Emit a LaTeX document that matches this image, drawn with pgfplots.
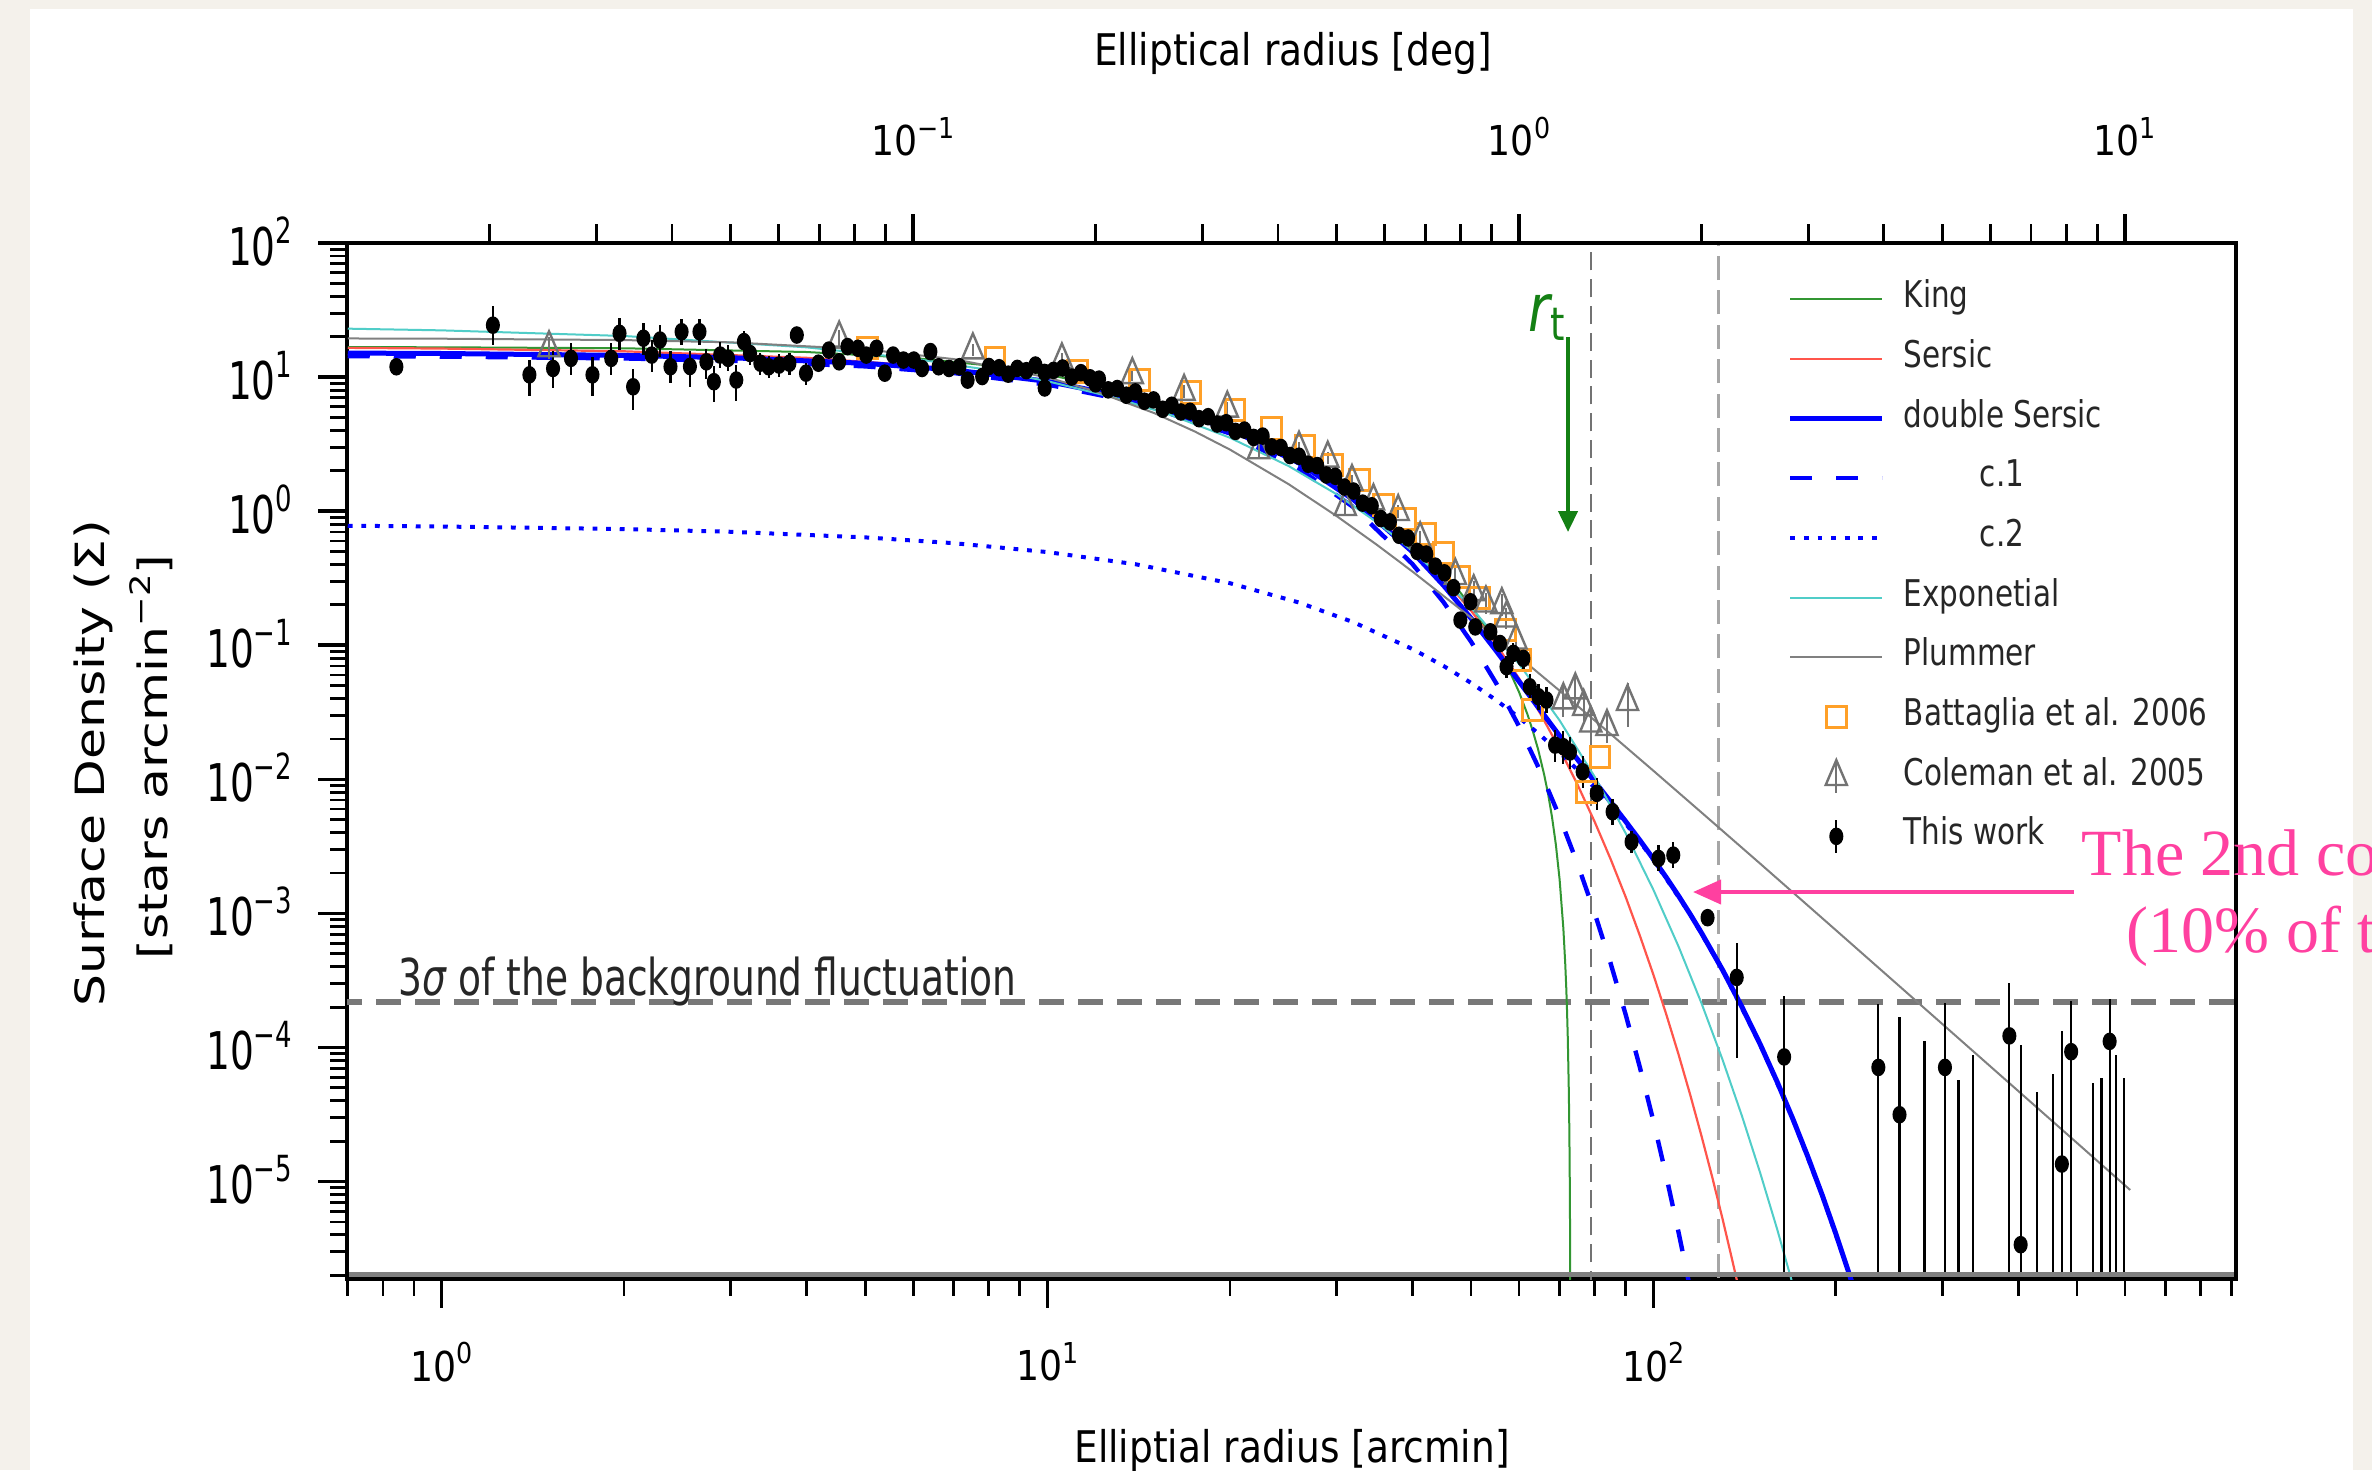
\documentclass[border=0pt]{standalone}
\usepackage{pgfplots}
\pgfplotsset{compat=1.18}
\usepackage{pgfplotstable}
\usepackage{graphicx}
\usepackage{fontspec}
\usetikzlibrary{arrows.meta}
\setmainfont{DejaVu Sans}
\newfontfamily\labf{DejaVu Sans}[FakeStretch=0.86]
\newfontfamily\sgf{DejaVu Sans}[FakeStretch=0.74]
\newfontfamily\lgf{DejaVu Sans}[FakeStretch=0.80]
\newfontfamily\xtf{DejaVu Sans}[FakeStretch=0.88]
\newfontfamily\ytf{DejaVu Sans}[FakeStretch=0.72]
\newfontfamily\ylf{DejaVu Sans}
\newfontfamily\rtf{DejaVu Sans}[FakeStretch=0.8]
\newfontfamily\pkf{Liberation Serif}

\definecolor{bgbeige}{RGB}{244,241,235}
\definecolor{kinggreen}{RGB}{50,150,50}
\definecolor{rtgreen}{RGB}{20,128,20}
\definecolor{sersicred}{RGB}{255,85,75}
\definecolor{expcyan}{RGB}{80,205,200}
\definecolor{plumgray}{RGB}{128,128,128}
\definecolor{batorange}{RGB}{255,160,40}
\definecolor{colgray}{RGB}{115,115,115}
\definecolor{pinkc}{RGB}{255,64,160}
\definecolor{sigline}{RGB}{120,120,120}

\newcommand\xsup[1]{\raisebox{4.3pt}{\fontsize{7.2}{7.2}\selectfont #1}}
\newcommand\ysup[1]{\raisebox{5.4pt}{\fontsize{9}{9}\selectfont #1}}
\newcommand\lsup[1]{\raisebox{5.2pt}{\fontsize{8.8}{8.8}\selectfont #1}}

\pgfplotsset{
  legend image code/.code={\draw[#1] (0pt,0.65pt) -- (23pt,0.65pt);},
  legmark/.style={legend image code/.code={\draw[##1] plot coordinates {(11.5pt,0.65pt)};}},
  legbar/.style={legend image code/.code={\draw[#1, line width=0.55pt] (11.5pt,-3.4pt) -- (11.5pt,4.7pt); \draw[##1] plot coordinates {(11.5pt,0.65pt)};}},
}

\pgfplotstableread{
x y
0.7 16.73
1 16.69
2 16.41
4 15.39
6 13.91
8 12.20
10 10.46
13 8.08
16 6.13
20 4.18
25 2.58
30 1.59
35 0.976
40 0.59
45 0.347
47.5 0.2623
50 0.195
52 0.1515
54 0.1157
57.2 0.0722
60 0.0447
62 0.0302
63.2 0.023
64.5 0.01677
66 0.01086
67 0.00778
68 0.00525
69 0.00327
70 0.00179
71 7.76e-4
71.5 4.27e-4
71.8 2.74e-4
72 1.89e-4
72.2 1.2e-4
72.5 4.66e-5
72.65 2.25e-5
72.8 7.4e-6
72.95 4.6e-7
}\kingtab

\pgfplotstableread{
x y
0.7 16.53
1 16.33
2 15.58
4 13.93
6 12.27
8 10.68
10 9.21
13 7.28
16 5.67
20 3.99
25 2.51
30 1.54
35 0.925
40 0.546
45 0.3165
50 0.1808
55 0.1018
60 0.0566
65 0.0311
70 0.01687
75 9.05e-3
80 4.80e-3
85 2.53e-3
90 1.32e-3
95 6.78e-4
100 3.47e-4
105 1.76e-4
110 8.86e-5
115 4.42e-5
120 2.19e-5
125 1.08e-5
130 5.27e-6
135 2.55e-6
137 1.91e-6
140 1.23e-6
}\sersictab

\pgfplotstableread{
x y
0.7 15.11
1 15.00
2 14.52
3 13.95
5 12.67
7 11.31
10 9.29
14 6.875
20 4.093
26 2.287
32 1.216
40 0.498
45 0.2806
50 0.1587
55 0.0910
60 0.0537
65 0.0330
70 0.0211
75 0.0140
80 0.00962
85 0.00677
90 0.00484
95 0.0035
100 0.00254
105 0.00185
110 0.00135
115 9.84e-4
120 7.16e-4
130 3.79e-4
140 2.0e-4
150 1.056e-4
160 5.54e-5
170 2.9e-5
180 1.51e-5
190 7.86e-6
200 4.07e-6
210 2.1e-6
215 1.51e-6
}\dstab

\pgfplotstableread{
x y
0.7 14.335
1 14.227
2 13.781
3 13.246
5 12.028
7 10.728
10 8.793
14 6.473
20 3.803
26 2.078
32 1.068
40 0.4039
45 0.2104
50 0.1063
55 0.0521
60 0.02482
65 0.01156
70 5.24e-3
75 2.316e-3
80 9.99e-4
85 4.22e-4
90 1.75e-4
95 7.06e-5
100 2.81e-5
105 1.09e-5
110 4.17e-6
113 2.33e-6
115 1.56e-6
}\conetab

\pgfplotstableread{
x y
0.7 0.7786
1 0.7687
2 0.7353
3 0.7021
5 0.6377
7 0.5774
10 0.4953
14 0.4014
20 0.2903
26 0.2083
32 0.1484
40 0.0938
45 0.0702
50 0.05236
55 0.03894
60 0.0289
65 0.02142
70 0.01584
75 0.0117
80 0.00862
90 0.004668
100 0.002511
115 9.82e-4
130 3.79e-4
150 1.056e-4
170 2.9e-5
190 7.86e-6
210 2.1e-6
215 1.51e-6
}\ctwotab

\pgfplotstableread{
x y
0.7 22.98
1 22.32
2 20.26
4 16.68
6 13.74
8 11.31
10 9.32
13 6.96
16 5.20
20 3.53
25 2.17
30 1.337
35 0.823
40 0.5065
45 0.3115
50 0.1918
60 0.0726
70 0.0275
80 0.01042
90 3.95e-3
100 1.494e-3
110 5.66e-4
120 2.14e-4
130 8.11e-5
140 3.07e-5
150 1.16e-5
160 4.41e-6
170 1.67e-6
175 1.03e-6
}\expotab

\pgfplotstableread{
x y
0.7 19.42
1 19.34
2 18.89
3 18.17
5 16.11
7 13.63
10 9.94
12 7.84
15 5.39
17.5 3.93
20 2.88
25 1.589
30 0.919
35 0.559
40 0.355
50 0.1607
60 0.082
70 0.0458
85 0.02175
100 0.01157
120 5.66e-3
150 2.35e-3
200 7.5e-4
300 1.49e-4
400 4.73e-5
500 1.94e-5
612 8.65e-6
}\plumtab

\pgfplotstableread{
x y
5.05 16.5
8.19 13.9
11.19 10.96
14.18 9.5
17.25 7.64
20.39 5.68
23.44 4.15
26.6 3.03
29.5 2.21
32.7 1.71
35.8 1.11
39.0 0.874
42.0 0.676
45.0 0.487
47.9 0.323
51.7 0.225
56.9 0.130
60.4 0.0776
63.2 0.0329
77.4 0.00804
81.6 0.0147
}\battab

\pgfplotstableread{
x y ep em
1.504 16.5 0.2 0.17
4.53 19.5 0.15 0.13
7.53 15.9 0.12 0.1
10.56 13.4 0.12 0.1
13.8 10.4 0.12 0.1
16.8 7.8 0.12 0.1
19.8 5.85 0.12 0.1
22.3 2.86 0.15 0.13
26.0 2.94 0.12 0.1
29.0 2.48 0.12 0.1
31.0 1.08 0.15 0.13
31.8 1.66 0.12 0.1
34.5 1.19 0.12 0.1
37.9 0.99 0.12 0.1
41.2 0.62 0.15 0.13
47.1 0.33 0.15 0.13
50.5 0.25 0.2 0.17
52.9 0.206 0.2 0.17
56.2 0.20 0.2 0.17
57.2 0.159 0.2 0.17
59.3 0.109 0.2 0.17
71.0 0.039 0.3 0.25
74.3 0.0463 0.3 0.25
76.7 0.0348 0.3 0.25
78.8 0.0262 0.3 0.25
83.8 0.0247 0.3 0.25
90.6 0.0379 0.38 0.35
}\coltab

\pgfplotstableread{
x y ep em
0.842 11.95 0.12 0.10
1.215 24.4 0.38 0.29
1.396 10.4 0.30 0.30
1.527 11.6 0.35 0.28
1.635 13.8 0.30 0.25
1.774 10.4 0.35 0.30
1.905 13.8 0.30 0.25
1.966 21.2 0.30 0.25
2.07 8.47 0.35 0.33
2.153 19.5 0.30 0.25
2.222 14.6 0.30 0.25
2.293 18.9 0.30 0.25
2.386 11.95 0.30 0.25
2.489 21.8 0.25 0.20
2.569 12.0 0.30 0.30
2.664 21.8 0.25 0.20
2.735 13.0 0.25 0.25
2.814 9.24 0.30 0.30
2.882 14.6 0.25 0.20
2.970 13.8 0.25 0.20
3.064 9.51 0.30 0.30
3.154 18.4 0.20 0.18
3.228 15.0 0.20 0.18
3.357 12.7 0.20 0.18
3.465 11.95 0.20 0.18
3.605 12.3 0.20 0.18
3.75 12.7 0.20 0.18
3.857 20.6 0.15 0.13
3.994 10.7 0.20 0.18
4.187 12.7 0.15 0.13
4.355 15.9 0.15 0.13
4.529 13.0 0.15 0.13
4.675 16.9 0.15 0.13
4.864 16.4 0.15 0.13
5.02 14.6 0.15 0.13
5.22 16.4 0.15 0.13
5.387 10.7 0.15 0.13
5.56 14.6 0.15 0.13
5.783 13.4 0.12 0.10
6.015 13.4 0.12 0.10
6.208 11.6 0.12 0.10
6.407 15.5 0.12 0.10
6.61 11.95 0.12 0.10
6.877 11.6 0.12 0.10
7.155 11.95 0.12 0.10
7.38 9.5 0.12 0.10
7.8 10.1 0.12 0.10
8.0 12.0 0.12 0.10
8.318 11.75 0.10 0.09
8.61 10.52 0.10 0.09
8.913 11.61 0.10 0.09
9.226 11.17 0.10 0.09
9.55 12.30 0.10 0.09
9.886 10.84 0.10 0.09
9.89 8.3 0.12 0.10
10.23 11.22 0.10 0.09
10.59 11.69 0.10 0.09
10.96 10.0 0.10 0.09
11.35 10.79 0.10 0.09
11.75 9.886 0.10 0.09
12.0 8.9 0.10 0.09
12.16 9.66 0.10 0.09
12.59 8.035 0.10 0.09
13.03 8.22 0.10 0.09
13.49 7.328 0.10 0.09
13.96 7.762 0.10 0.09
14.45 6.607 0.10 0.09
14.96 6.761 0.10 0.09
15.49 5.754 0.10 0.09
16.03 6.166 0.10 0.09
16.60 5.495 0.10 0.09
17.18 5.559 0.10 0.09
17.78 4.898 0.10 0.09
18.41 5.070 0.10 0.09
19.05 4.467 0.10 0.09
19.72 4.571 0.10 0.09
20.42 3.936 0.10 0.09
21.13 4.027 0.10 0.09
21.88 3.548 0.10 0.09
22.65 3.631 0.10 0.09
23.44 3.020 0.10 0.09
24.27 2.985 0.10 0.09
25.12 2.600 0.10 0.09
26.0 2.570 0.10 0.09
26.92 2.239 0.10 0.09
27.86 2.188 0.10 0.09
28.84 1.862 0.10 0.09
29.85 1.820 0.10 0.09
30.90 1.514 0.10 0.09
31.99 1.413 0.10 0.09
33.11 1.148 0.10 0.09
34.28 1.097 0.10 0.09
35.48 0.881 0.10 0.09
36.73 0.832 0.10 0.09
38.02 0.661 0.10 0.09
39.36 0.631 0.10 0.09
40.74 0.501 0.10 0.09
42.17 0.479 0.10 0.09
43.65 0.389 0.10 0.09
45.19 0.347 0.10 0.09
46.77 0.269 0.10 0.09
48.0 0.154 0.15 0.13
49.9 0.211 0.15 0.13
50.8 0.137 0.15 0.13
53.8 0.126 0.15 0.13
55.8 0.103 0.15 0.13
57.2 0.0692 0.2 0.17
58.7 0.087 0.2 0.17
61.0 0.0798 0.2 0.17
62.5 0.049 0.25 0.2
64.6 0.0413 0.25 0.2
66.6 0.039 0.25 0.2
68.8 0.018 0.3 0.25
71.0 0.0175 0.3 0.25
72.8 0.016 0.3 0.25
76.4 0.0114 0.3 0.25
80.6 0.00786 0.3 0.25
85.6 0.00573 0.25 0.2
92.0 0.00342 0.2 0.17
101.9 0.00257 0.25 0.2
107.8 0.00272 0.25 0.2
122.8 9.29e-4 0.15 0.125
137.2 3.33e-4 0.8 0.75
164.3 8.5e-5 1.87 0.999
235 7.1e-5 1.96 0.999
254.7 3.15e-5 4.40 0.999
280 1e-7 1119 0
302.7 7.1e-5 2.04 0.999
318.6 1e-7 573 0
336.6 1e-7 874 0
386.7 1.22e-4 1.467 0.999
403.6 3.38e-6 30.1 0.99
429.6 1e-7 464 0
456 1e-7 629 0
472 1.35e-5 8.85 0.99
489 9.3e-5 1.40 0.999
531.6 1e-7 539 0
548.6 1e-7 589 0
566 1.11e-4 1.07 0.999
580 1e-7 879 0
598 1e-7 589 0
}\twtab

\begin{document}
\begin{tikzpicture}
\useasboundingbox (0pt,0pt) rectangle (593pt,-367.5pt);
\clip (0pt,0pt) rectangle (593pt,-367.5pt);
\begin{scope}[x=0.25pt,y=-0.25pt]
  \fill[bgbeige] (0,0) rectangle (2372,1470);
  \fill[white] (30,9) rectangle (2353,1470);
\end{scope}

\begin{axis}[
  at={(86.75pt,-319.75pt)}, anchor=south west,
  width=472.25pt, height=259pt, scale only axis,
  xmode=log, ymode=log,
  xmin=0.698, xmax=915, ymin=1.874e-6, ymax=100,
  axis line style={line width=1.2pt, black},
  tick align=outside,
  xtick pos=left, ytick pos=left,
  major tick length=7.2pt, minor tick length=4.2pt,
  tick style={black, line width=0.9pt},
  minor tick style={line width=0.7pt},
  xtick={1,10,100},
  xticklabels={10\xsup{0},10\xsup{1},10\xsup{2}},
  minor xtick={0.7,0.8,0.9,2,3,4,5,6,7,8,9,20,30,40,50,60,70,80,90,200,300,400,500,600,700,800,900},
  ytick={1e-5,1e-4,1e-3,1e-2,1e-1,1,10,100},
  yticklabels={10\ysup{−5},10\ysup{−4},10\ysup{−3},10\ysup{−2},10\ysup{−1},10\ysup{0},10\ysup{1},10\ysup{2}},
  minor ytick={2e-6,3e-6,4e-6,5e-6,6e-6,7e-6,8e-6,9e-6,2e-5,3e-5,4e-5,5e-5,6e-5,7e-5,8e-5,9e-5,2e-4,3e-4,4e-4,5e-4,6e-4,7e-4,8e-4,9e-4,2e-3,3e-3,4e-3,5e-3,6e-3,7e-3,8e-3,9e-3,0.02,0.03,0.04,0.05,0.06,0.07,0.08,0.09,0.2,0.3,0.4,0.5,0.6,0.7,0.8,0.9,2,3,4,5,6,7,8,9,20,30,40,50,60,70,80,90},
  xticklabel style={font=\xtf\fontsize{10.3}{12}\selectfont, inner sep=0pt, anchor=north},
  xticklabel shift=8.5pt,
  yticklabel style={font=\ytf\fontsize{13}{14}\selectfont, inner sep=0pt, anchor=base east, yshift=-5.5pt},
  yticklabel shift=6.3pt,
  legend style={at={(0.7623,0.9672)}, anchor=north west, draw=none, fill=none,
    font=\lgf\fontsize{9.2}{11}\selectfont, text=black!85, inner sep=0pt,
    row sep=2.92pt, column sep=4.75pt,
    nodes={inner sep=0pt, text height=7.5pt, text depth=4.5pt}},
  legend cell align=left,
]
% reference lines
\addplot[sigline, line width=1.5pt, dash pattern=on 6.25pt off 3.5pt, forget plot] coordinates {(0.5,2.2e-4) (1000,2.2e-4)};
\addplot[black!55, line width=0.5pt, dash pattern=on 4.5pt off 2.2pt, forget plot] coordinates {(79,1e-7) (79,1000)};
\addplot[black!35, line width=0.8pt, dash pattern=on 6pt off 2.6pt, forget plot] coordinates {(128,1e-7) (128,1000)};

\addplot[kinggreen, line width=0.5pt] table {\kingtab};
\addlegendentry{King}
\addplot[sersicred, line width=0.55pt] table {\sersictab};
\addlegendentry{Sersic}
\addplot[blue, line width=1.25pt] table {\dstab};
\addlegendentry{double Sersic}
\addplot[blue, line width=1.1pt, dash pattern=on 5.5pt off 6pt] table {\conetab};
\addlegendentry{\hspace{19pt}c.1}
\addplot[blue, line width=1pt, dash pattern=on 1.2pt off 2.2pt] table {\ctwotab};
\addlegendentry{\hspace{19pt}c.2}
\addplot[expcyan, line width=0.5pt] table {\expotab};
\addlegendentry{Exponetial}
\addplot[plumgray, line width=0.5pt] table {\plumtab};
\addlegendentry{Plummer}
\addplot[batorange, only marks, mark=square, mark size=2.7pt,
  mark options={line width=0.75pt, xscale=0.92}, legmark] table {\battab};
\addlegendentry{Battaglia et al. 2006}
\addplot[colgray, only marks, mark=triangle, mark size=3.6pt,
  mark options={line width=0.6pt, xscale=0.85, yscale=1.15}, legbar=colgray,
  error bars/.cd, y dir=both, y explicit relative, error mark=none,
  error bar style={line width=0.5pt, colgray}]
  table[x=x, y=y, y error plus=ep, y error minus=em] {\coltab};
\addlegendentry{Coleman et al. 2005}
\addplot[black, only marks, mark=*, mark size=2pt, mark options={xscale=0.78}, legbar=black,
  error bars/.cd, y dir=both, y explicit relative, error mark=none,
  error bar style={line width=0.55pt, black}]
  table[x=x, y=y, y error plus=ep, y error minus=em] {\twtab};
\addlegendentry{This work}
\end{axis}

\begin{axis}[
  at={(86.75pt,-319.75pt)}, anchor=south west,
  width=472.25pt, height=259pt, scale only axis,
  xmode=log, xmin=0.011633, xmax=15.25, ymin=0, ymax=1,
  axis x line*=top, axis y line=none,
  axis line style={-, line width=1.2pt, black},
  tick align=outside,
  major tick length=7.2pt, minor tick length=4.7pt,
  tick style={black, line width=0.9pt},
  minor tick style={line width=0.7pt},
  xtick={0.1,1,10},
  xticklabels={10\xsup{−1},10\xsup{0},10\xsup{1}},
  minor xtick={0.02,0.03,0.04,0.05,0.06,0.07,0.08,0.09,0.2,0.3,0.4,0.5,0.6,0.7,0.8,0.9,2,3,4,5,6,7,8,9},
  xticklabel style={font=\xtf\fontsize{10.3}{12}\selectfont, inner sep=0pt, anchor=south},
  xticklabel shift=14.3pt,
]
\addplot[draw=none, forget plot] coordinates {(1,0.5)};
\end{axis}

\begin{scope}[x=0.25pt,y=-0.25pt]
  \draw[black!50, line width=1.4pt] (349,1274.5) -- (2234,1274.5);
  \node[anchor=base, inner sep=0pt, font=\labf\fontsize{10.9}{13}\selectfont] at (1292,1462) {Elliptial radius [arcmin]};
  \node[anchor=base, inner sep=0pt, font=\labf\fontsize{10.9}{13}\selectfont] at (1293,65) {Elliptical radius [deg]};
  \node[rotate=90, inner sep=0pt, font=\ylf\fontsize{12.6}{14}\selectfont] at (93,763) {\scalebox{1}[0.8]{Surface Density (Σ)}};
  \node[rotate=90, inner sep=0pt, font=\ylf\fontsize{12.6}{14}\selectfont] at (151,757) {\scalebox{1}[0.8]{[stars arcmin\lsup{−2}]}};
  \node[anchor=base west, inner sep=0pt, text=black!85, font=\sgf\fontsize{12.7}{14}\selectfont] at (398,995) {3{\itshape σ} of the background fluctuation};
  \node[anchor=base west, inner sep=0pt, text=rtgreen, font=\rtf\fontsize{16.5}{18}\selectfont] at (1528,331) {{\itshape r}\raisebox{-2.3pt}{\fontsize{11.5}{12}\selectfont t}};
  \draw[rtgreen, line width=1pt, -{Triangle[width=4.75pt,length=5.25pt]}] (1568,337) -- (1568,532);
  \draw[pinkc, line width=1pt, -{Triangle[width=6pt,length=7pt]}] (2074,892) -- (1693,892);
  \node[anchor=base west, inner sep=0pt, text=pinkc, font=\pkf\fontsize{16.5}{18}\selectfont] at (2081,875) {The 2nd component};
  \node[anchor=base west, inner sep=0pt, text=pinkc, font=\pkf\fontsize{16.5}{18}\selectfont] at (2126,952) {(10\% of the total)};
\end{scope}
\end{tikzpicture}
\end{document}
